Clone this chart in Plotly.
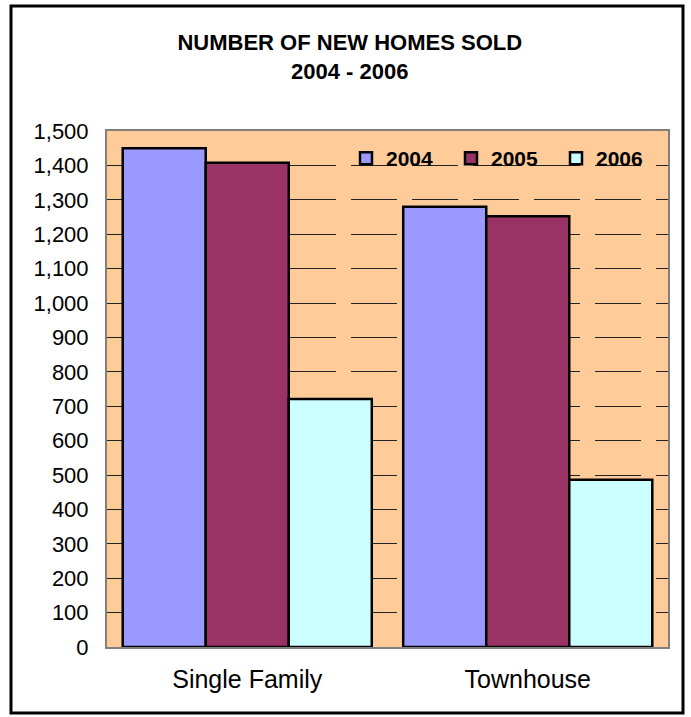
import plotly.graph_objects as go

categories = ["Single Family", "Townhouse"]
years = ["2004", "2005", "2006"]
sold_2004 = [1450, 1280]
sold_2005 = [1408, 1252]
sold_2006 = [721, 486]
colors = ["#9999FF", "#993366", "#CCFFFF"]
tick_vals = list(range(0, 1501, 100))
tick_text = [f"{v:,}" for v in tick_vals]

W, H = 691, 717
ml, mr, mt, mb = 107, 23, 131, 70
pw = W - ml - mr
ph = H - mt - mb

fig = go.Figure()
for name, vals, col in zip(years, [sold_2004, sold_2005, sold_2006], colors):
    fig.add_trace(go.Bar(
        x=categories, y=vals, name=name,
        marker=dict(color=col, line=dict(color="black", width=2.5)),
    ))

fig.update_layout(
    width=W, height=H,
    margin=dict(l=ml, r=mr, t=mt, b=mb, autoexpand=False),
    paper_bgcolor="white",
    plot_bgcolor="#FFCC99",
    barmode="group",
    bargap=0.112,
    bargroupgap=0,
    font=dict(family="Liberation Sans, Arial, sans-serif", color="black"),
    title=dict(
        text="<b>NUMBER OF NEW HOMES SOLD<br>2004 - 2006</b>",
        x=(11 + 683) / 2 / W + 0.004, xanchor="center", y=1 - 50 / H, yanchor="top",
        font=dict(size=22, color="black"),
    ),
    legend=dict(
        orientation="h",
        x=(346 - ml) / pw, xanchor="left",
        y=1 - (138 - mt) / ph, yanchor="top",
        bgcolor="rgba(0,0,0,0)",
        font=dict(size=21, color="black", weight="bold"),
        entrywidth=60, entrywidthmode="pixels",
        traceorder="normal",
    ),
    xaxis=dict(
        showgrid=False,
        showline=True, linecolor="#808080", linewidth=2, mirror=True,
        ticks="", tickfont=dict(size=25),
        ticklabelstandoff=9,
    ),
    yaxis=dict(
        range=[0, 1500],
        tickvals=tick_vals, ticktext=tick_text,
        showgrid=True, gridcolor="#222222", gridwidth=1, griddash="46px,15px",
        showline=True, linecolor="#808080", linewidth=2, mirror=True,
        ticks="", tickfont=dict(size=22),
        ticklabelstandoff=12,
        zeroline=False,
    ),
    shapes=[dict(
        type="rect", xref="paper", yref="paper",
        x0=(11 - ml) / pw, x1=(683 - ml) / pw,
        y0=(H - mb - 6) / ph, y1=(H - mb - 713) / ph,
        line=dict(color="black", width=3), layer="below",
    )],
)

fig.write_html(
    "out.html",
    config={"displayModeBar": False},
    post_script="document.body.style.margin='0';",
)
